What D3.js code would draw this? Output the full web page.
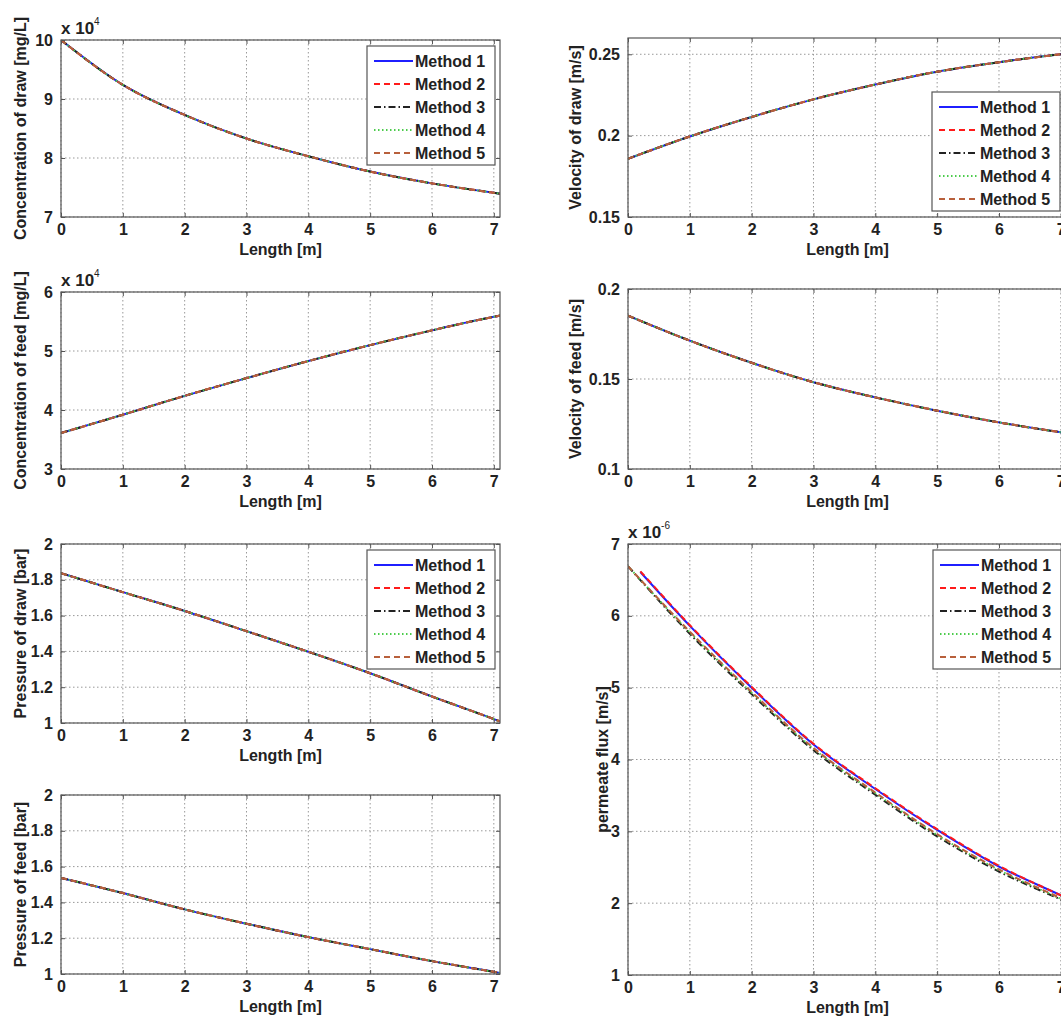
<!DOCTYPE html>
<html>
<head>
<meta charset="utf-8">
<script src="https://cdn.jsdelivr.net/npm/d3@7"></script>
<style>
  body { margin: 0; background: #fff; }
  text { font-family: "Liberation Sans", Arial, sans-serif; fill: #222; }
</style>
</head>
<body>
<div id="chart"></div>
<script>
// data
const lengthM = [0, 1, 2, 3, 4, 5, 6, 7, 7.1];
const methods = ["Method 1", "Method 2", "Method 3", "Method 4", "Method 5"];

const concDraw = [10.0, 9.24, 8.73, 8.33, 8.03, 7.77, 7.57, 7.41, 7.395];     // x 10^4
const concFeed = [3.61, 3.92, 4.24, 4.54, 4.83, 5.10, 5.35, 5.58, 5.60];      // x 10^4
const presDraw = [1.837, 1.731, 1.626, 1.513, 1.398, 1.278, 1.148, 1.022, 1.009];
const presFeed = [1.537, 1.452, 1.361, 1.281, 1.206, 1.139, 1.072, 1.012, 1.006];
const velDraw = [0.1858, 0.1995, 0.2115, 0.2223, 0.2314, 0.2393, 0.2451, 0.2500, 0.2504];
const velFeed = [0.1852, 0.1713, 0.1590, 0.1482, 0.1398, 0.1324, 0.1259, 0.1204, 0.1199];

// permeate flux, x 10^-6 (methods 1 and 2 start a bit later)
const fluxX12 = [0.2, 1, 2, 3, 4, 5, 6, 7, 7.1];
const fluxM1 = [6.61, 5.86, 5.00, 4.21, 3.59, 3.02, 2.51, 2.11, 2.07];
const fluxM2 = [6.62, 5.87, 5.01, 4.22, 3.60, 3.03, 2.52, 2.11, 2.07];
const fluxM3 = [6.69, 5.75, 4.91, 4.13, 3.51, 2.93, 2.44, 2.05, 2.01];
const fluxM4 = [6.69, 5.77, 4.93, 4.15, 3.53, 2.95, 2.46, 2.06, 2.02];
const fluxM5 = [6.69, 5.78, 4.94, 4.16, 3.54, 2.96, 2.47, 2.07, 2.03];

const xTicks = [0, 1, 2, 3, 4, 5, 6, 7];

const styles = [
    { color: "#1f1fff", dash: null },
    { color: "#ff1a1a", dash: "6,4" },
    { color: "#222", dash: "7,3,1.5,3" },
    { color: "#4ccc4c", dash: "1.5,2.5" },
    { color: "#b8603c", dash: "6,4" }
];

const W = 1061, H = 1021;
const svg = d3.select("#chart").append("svg")
    .attr("width", W).attr("height", H);

const same = v => methods.map(() => ({ x: lengthM, y: v }));

const panels = [
    { left: 61, top: 40, h: 177, dom: [7, 10], ticks: [7, 8, 9, 10], label: "Concentration of draw [mg/L]",
      exp: "4", series: same(concDraw), legend: [367, 46], labX: 20 },
    { left: 61, top: 292, h: 177, dom: [3, 6], ticks: [3, 4, 5, 6], label: "Concentration of feed [mg/L]",
      exp: "4", series: same(concFeed), labX: 20 },
    { left: 61, top: 544, h: 179, dom: [1, 2], ticks: [1, 1.2, 1.4, 1.6, 1.8, 2], label: "Pressure of draw [bar]",
      series: same(presDraw), legend: [367, 550], labX: 20 },
    { left: 61, top: 795, h: 179, dom: [1, 2], ticks: [1, 1.2, 1.4, 1.6, 1.8, 2], label: "Pressure of feed [bar]",
      series: same(presFeed), labX: 20 },
    { left: 628, top: 38, h: 179, dom: [0.15, 0.26], ticks: [0.15, 0.2, 0.25], label: "Velocity of draw [m/s]",
      series: same(velDraw), legend: [932, 92], labX: 575 },
    { left: 628, top: 289, h: 180, dom: [0.1, 0.2], ticks: [0.1, 0.15, 0.2], label: "Velocity of feed [m/s]",
      series: same(velFeed), labX: 575 },
    { left: 628, top: 544, h: 431, dom: [1, 7], ticks: [1, 2, 3, 4, 5, 6, 7], label: "permeate flux [m/s]",
      exp: "-6", legend: [933, 550], labX: 602,
      series: [
          { x: fluxX12, y: fluxM1 }, { x: fluxX12, y: fluxM2 },
          { x: lengthM, y: fluxM3 }, { x: lengthM, y: fluxM4 }, { x: lengthM, y: fluxM5 }
      ] }
];

const pw = 439;

panels.forEach(function (p, i) {
    const x = d3.scaleLinear().domain([0, 7.1]).range([p.left, p.left + pw]);
    const y = d3.scaleLinear().domain(p.dom).range([p.top + p.h, p.top]);
    const g = svg.append("g");

    g.append("rect")
        .attr("x", p.left).attr("y", p.top).attr("width", pw).attr("height", p.h)
        .attr("fill", "#fff");

    // grid
    const clipId = "clip" + i;
    g.append("clipPath").attr("id", clipId)
        .append("rect").attr("x", p.left).attr("y", p.top).attr("width", pw).attr("height", p.h);

    g.append("g").selectAll("line").data(xTicks).enter().append("line")
        .attr("x1", d => x(d)).attr("x2", d => x(d))
        .attr("y1", p.top).attr("y2", p.top + p.h)
        .attr("stroke", "#999").attr("stroke-width", 1).attr("stroke-dasharray", "1.5,2.5");
    g.append("g").selectAll("line").data(p.ticks).enter().append("line")
        .attr("x1", p.left).attr("x2", p.left + pw)
        .attr("y1", d => y(d)).attr("y2", d => y(d))
        .attr("stroke", "#999").attr("stroke-width", 1).attr("stroke-dasharray", "1.5,2.5");

    // curves
    const line = d3.line().curve(d3.curveMonotoneX);
    g.append("g").attr("clip-path", `url(#${clipId})`)
        .selectAll("path").data(p.series).enter().append("path")
        .attr("d", s => line(s.x.map((xv, k) => [x(xv), y(s.y[k])])))
        .attr("fill", "none")
        .attr("stroke", (s, k) => styles[k].color)
        .attr("stroke-width", 2)
        .attr("stroke-dasharray", (s, k) => styles[k].dash);

    // axes box + inward ticks
    g.append("rect")
        .attr("x", p.left).attr("y", p.top).attr("width", pw).attr("height", p.h)
        .attr("fill", "none").attr("stroke", "#555").attr("stroke-width", 1.2);

    const xAxis = d3.axisBottom(x).tickValues(xTicks).tickSize(-4).tickPadding(7).tickFormat(d3.format("d"));
    const xa = g.append("g").attr("transform", `translate(0,${p.top + p.h})`).call(xAxis);
    const yAxis = d3.axisLeft(y).tickValues(p.ticks).tickSize(-4).tickPadding(8).tickFormat(d => String(+d.toFixed(2)));
    const ya = g.append("g").attr("transform", `translate(${p.left},0)`).call(yAxis);
    g.append("g").attr("transform", `translate(0,${p.top})`)
        .call(d3.axisTop(x).tickValues(xTicks).tickSize(-4).tickFormat(""));
    g.append("g").attr("transform", `translate(${p.left + pw},0)`)
        .call(d3.axisRight(y).tickValues(p.ticks).tickSize(-4).tickFormat(""));

    g.selectAll(".domain").remove();
    g.selectAll(".tick line").attr("stroke", "#555");
    [xa, ya].forEach(a => a.selectAll("text")
        .style("font-family", "'Liberation Sans', Arial, sans-serif")
        .style("font-size", "16px").style("font-weight", "bold").attr("fill", "#222"));

    // axis labels
    g.append("text")
        .attr("x", p.left + pw / 2).attr("y", p.top + p.h + 38)
        .attr("text-anchor", "middle")
        .style("font-size", "16px").style("font-weight", "bold")
        .text("Length [m]");
    g.append("text")
        .attr("transform", `translate(${p.labX},${p.top + p.h / 2}) rotate(-90)`)
        .attr("text-anchor", "middle").attr("dy", "0.35em")
        .style("font-size", "16px").style("font-weight", "bold")
        .text(p.label);

    // exponent
    if (p.exp) {
        const t = g.append("text")
            .attr("x", p.left).attr("y", p.top - 6)
            .style("font-size", "17px").style("font-weight", "bold");
        t.append("tspan").text("x 10");
        t.append("tspan").attr("dy", -9).style("font-size", "10px").style("font-weight", "normal").text(p.exp);
    }

    // legend
    if (p.legend) {
        const lx = p.legend[0], ly = p.legend[1];
        const lg = g.append("g");
        lg.append("rect")
            .attr("x", lx).attr("y", ly).attr("width", 128).attr("height", 119)
            .attr("fill", "#fff").attr("stroke", "#555").attr("stroke-width", 1.2);
        const rows = lg.selectAll("g").data(methods).enter().append("g")
            .attr("transform", (d, k) => `translate(${lx},${ly + 15 + k * 23})`);
        rows.append("line")
            .attr("x1", 7).attr("x2", 46)
            .attr("stroke", (d, k) => styles[k].color)
            .attr("stroke-width", 2)
            .attr("stroke-dasharray", (d, k) => styles[k].dash);
        rows.append("text")
            .attr("x", 48).attr("dy", "0.36em")
            .style("font-size", "16px").style("font-weight", "bold")
            .text(d => d);
    }
});
</script>
</body>
</html>
